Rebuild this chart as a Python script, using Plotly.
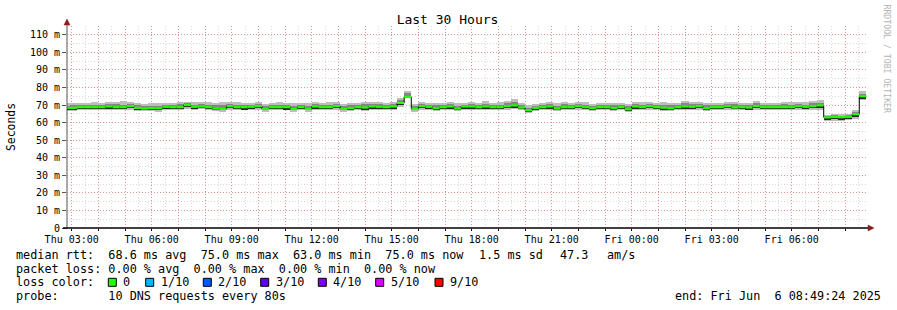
import pandas as pd
import plotly.graph_objects as go

# ---------------- data ----------------
title_text = "Last 30 Hours"
y_title = "Seconds"
range_start = "2025-06-05 02:49:24"
range_end = "2025-06-06 08:49:24"
first_bin = "2025-06-05 02:40:00"
bin_minutes = 16

# median RTT per 16-minute bin (ms)
median_ms = [
    68.4, 68.4, 68.8, 68.8, 68.8, 68.8, 69.2, 68.8, 68.8, 69.4,
    68.4, 68.0, 68.2, 68.2, 69.0, 68.8, 68.8, 70.0, 69.0, 69.2,
    68.8, 68.0, 67.8, 69.4, 68.8, 68.8, 69.0, 69.4, 67.8, 68.8,
    68.8, 68.8, 67.8, 68.8, 67.8, 69.2, 68.8, 68.8, 69.4, 67.8,
    68.2, 68.8, 68.6, 69.2, 69.0, 68.8, 69.2, 71.2, 74.6, 67.8,
    69.4, 69.0, 68.2, 68.8, 69.2, 68.0, 69.2, 69.2, 68.8, 69.2,
    68.8, 68.8, 69.4, 69.8, 68.6, 67.0, 68.4, 68.8, 69.2, 68.0,
    68.8, 68.8, 69.4, 68.8, 68.2, 68.8, 68.8, 68.2, 68.8, 67.6,
    69.2, 68.8, 69.4, 68.8, 68.5, 68.2, 68.8, 69.2, 69.0, 69.4,
    68.2, 68.8, 68.8, 69.4, 68.6, 68.8, 68.6, 69.4, 68.8, 68.8,
    68.8, 68.8, 68.8, 69.4, 69.0, 69.4, 69.8, 63.0, 63.2, 63.1,
    63.3, 64.8, 75.0,
]
# slowest ping above the median (ms)
smoke_above = [
    2.8, 3.0, 2.6, 2.4, 2.8, 2.6, 2.4, 3.2, 3.4, 2.4,
    2.8, 2.6, 3.0, 2.8, 2.2, 2.6, 3.0, 2.0, 2.6, 2.4,
    2.8, 3.4, 3.8, 2.4, 2.8, 2.6, 2.4, 2.2, 3.0, 2.6,
    2.8, 2.6, 3.2, 2.6, 3.4, 2.4, 2.6, 2.8, 2.2, 3.0,
    3.0, 2.6, 3.0, 2.4, 2.8, 2.6, 2.4, 2.6, 3.6, 2.6,
    2.2, 2.4, 2.8, 2.6, 2.4, 3.0, 2.2, 2.6, 2.4, 3.0,
    2.6, 2.8, 3.0, 3.4, 2.6, 2.8, 2.4, 2.6, 2.4, 3.0,
    2.8, 2.6, 2.2, 2.8, 2.6, 2.4, 2.6, 3.2, 2.6, 3.0,
    2.4, 2.8, 2.2, 2.6, 3.0, 3.0, 2.6, 3.0, 2.8, 2.6,
    3.2, 2.6, 2.6, 2.2, 3.0, 2.6, 2.8, 3.0, 2.6, 2.4,
    2.6, 3.0, 2.8, 2.4, 2.6, 3.0, 3.0, 1.6, 1.8, 1.7,
    1.6, 2.4, 3.2,
]
# fastest ping below the median (ms)
smoke_below = [
    1.7, 1.9, 1.7, 1.5, 1.7, 1.8, 2.1, 1.7, 1.9, 2.1,
    1.7, 1.5, 1.7, 1.9, 2.1, 1.7, 1.7, 2.3, 1.9, 1.7,
    1.7, 1.5, 1.5, 2.1, 1.7, 1.9, 1.9, 2.1, 1.5, 1.7,
    1.7, 1.7, 1.5, 1.9, 1.5, 2.1, 1.7, 1.7, 2.1, 1.5,
    1.7, 1.7, 1.9, 1.9, 1.7, 1.7, 1.9, 2.2, 0.8, 1.5,
    2.1, 1.9, 1.7, 1.7, 1.9, 1.5, 1.9, 1.9, 1.7, 1.9,
    1.7, 1.7, 2.1, 2.3, 1.7, 1.5, 1.7, 1.7, 1.9, 1.5,
    1.7, 1.7, 2.1, 1.7, 1.5, 1.7, 1.7, 1.5, 1.7, 1.5,
    1.9, 1.7, 2.1, 1.7, 1.7, 1.5, 1.7, 1.9, 1.7, 2.1,
    1.5, 1.7, 1.7, 2.1, 1.7, 1.7, 1.7, 2.1, 1.7, 1.7,
    1.7, 1.7, 1.7, 2.1, 1.9, 2.1, 2.4, 2.2, 2.0, 2.2,
    2.0, 3.0, 2.4,
]
# dense (inner) part of the smoke above / below the median (ms)
core_above = [
    1.2, 1.6, 1.0, 1.2, 1.4, 1.0, 1.2, 1.8, 1.4, 1.0,
    1.4, 1.6, 1.4, 1.2, 1.0, 1.4, 1.8, 1.0, 1.2, 1.4,
    1.2, 1.8, 2.2, 1.0, 1.4, 1.2, 1.2, 1.0, 1.6, 1.2,
    1.4, 1.2, 1.6, 1.4, 1.8, 1.2, 1.2, 1.4, 1.0, 1.6,
    1.6, 1.4, 1.8, 1.2, 1.4, 1.2, 1.2, 1.4, 2.2, 1.4,
    1.0, 1.2, 1.6, 1.2, 1.2, 1.6, 1.0, 1.4, 1.2, 1.6,
    1.2, 1.4, 1.8, 2.0, 1.2, 1.6, 1.2, 1.4, 1.2, 1.6,
    1.6, 1.2, 1.0, 1.4, 1.2, 1.2, 1.2, 1.8, 1.2, 1.6,
    1.2, 1.4, 1.0, 1.2, 1.8, 1.6, 1.4, 1.8, 1.4, 1.2,
    1.8, 1.2, 1.2, 1.0, 1.8, 1.2, 1.4, 2.0, 1.2, 1.2,
    1.2, 1.6, 1.4, 1.0, 1.2, 1.8, 1.4, 0.9, 1.0, 0.9,
    0.9, 1.2, 1.4,
]
core_below = [
    0.8, 1.0, 0.7, 0.6, 0.8, 1.0, 1.2, 0.7, 0.9, 1.2,
    0.8, 0.6, 0.9, 1.0, 1.2, 0.7, 0.8, 1.2, 1.0, 0.8,
    0.7, 0.6, 0.6, 1.2, 0.8, 1.1, 1.2, 1.2, 0.6, 0.9,
    0.8, 1.1, 0.6, 1.0, 0.6, 1.2, 0.8, 0.9, 1.2, 0.6,
    0.8, 1.0, 1.0, 1.2, 0.8, 0.7, 1.1, 1.2, 0.5, 0.6,
    1.2, 1.0, 0.8, 0.8, 1.2, 0.6, 1.1, 1.0, 0.8, 1.2,
    0.8, 0.9, 1.2, 1.3, 0.8, 0.6, 0.9, 0.8, 1.1, 0.6,
    0.8, 0.8, 1.2, 0.9, 0.6, 0.8, 0.8, 0.6, 0.9, 0.6,
    1.1, 0.8, 1.2, 0.8, 0.8, 0.6, 0.9, 1.0, 0.8, 1.2,
    0.6, 0.8, 0.9, 1.2, 0.8, 0.8, 0.9, 1.2, 0.8, 0.8,
    0.8, 0.9, 0.8, 1.2, 1.1, 1.2, 1.2, 1.0, 1.0, 1.1,
    1.0, 1.6, 1.0,
]

y_tick_values = [0, 10, 20, 30, 40, 50, 60, 70, 80, 90, 100, 110]
y_tick_labels = ["0", "10 m", "20 m", "30 m", "40 m", "50 m", "60 m",
                 "70 m", "80 m", "90 m", "100 m", "110 m"]
x_first_hour = "2025-06-05 03:00"
x_last_hour = "2025-06-06 08:00"
x_label_every_hours = 3

stats_main = "median rtt:  68.6 ms avg  75.0 ms max  63.0 ms min  75.0 ms now"
stats_sd = "1.5 ms sd"
stats_amps_value = "47.3"
stats_amps_unit = "am/s"
loss_line = "packet loss: 0.00 % avg  0.00 % max  0.00 % min  0.00 % now"
loss_color_title = "loss color:"
loss_labels = ["0", "1/10", "2/10", "3/10", "4/10", "5/10", "9/10"]
loss_colors = ["#26ff00", "#00b8ff", "#0059ff", "#5e00ff", "#7e00ff", "#dd00ff", "#ff0000"]
probe_line = "probe:       10 DNS requests every 80s"
end_line = "end: Fri Jun  6 08:49:24 2025"
watermark = "RRDTOOL / TOBI OETIKER"

# ---------------- geometry / style ----------------
W, H = 897, 310
PL, PR, PT, PB = 67, 30, 26, 82
PW = W - PL - PR
PH = H - PT - PB
MONO = "DejaVu Sans Mono"


def fx(px):
    return (px - PL) / PW


def fy(py):
    return (H - PB - py) / PH


n = len(median_ms)
step = pd.Timedelta(minutes=bin_minutes)
starts = pd.date_range(first_bin, periods=n, freq=f"{bin_minutes}min")
centers = starts + step / 2
width_ms = step.total_seconds() * 1000

fig = go.Figure()


def band(lo, hi, color):
    fig.add_trace(go.Bar(
        x=centers, base=lo, y=[h - l for l, h in zip(lo, hi)],
        width=[width_ms] * n,
        marker=dict(color=color, line=dict(width=0)),
        hoverinfo="skip", showlegend=False,
    ))


band([m - b for m, b in zip(median_ms, smoke_below)],
     [m + a for m, a in zip(median_ms, smoke_above)], "#bdbdbd")
band([m - b for m, b in zip(median_ms, core_below)],
     [m + a for m, a in zip(median_ms, core_above)], "#858585")
band([m - b for m, b in zip(median_ms, core_below)],
     list(median_ms), "#262626")

# black median step line
fig.add_trace(go.Scatter(
    x=list(starts) + [starts[-1] + step], y=list(median_ms) + [median_ms[-1]],
    mode="lines", line=dict(color="#000000", width=1, shape="hv"),
    hoverinfo="skip", showlegend=False,
))
# green median segments (loss 0)
gx, gy = [], []
for s, m in zip(starts, median_ms):
    gx += [s, s + step, None]
    gy += [m, m, None]
fig.add_trace(go.Scatter(
    x=gx, y=gy, mode="lines", line=dict(color=loss_colors[0], width=2.2),
    hoverinfo="skip", showlegend=False,
))

hours = pd.date_range(x_first_hour, x_last_hour, freq="h")
hour_labels = [h.strftime("%a %H:%M") if h.hour % x_label_every_hours == 0 else "" for h in hours]

RED_GRID = "rgba(255,0,0,0.32)"
GRAY_GRID = "rgba(130,130,130,0.3)"
DOT = "1px,2px"

fig.update_layout(
    width=W, height=H,
    margin=dict(l=PL, r=PR, t=PT, b=PB, pad=0),
    paper_bgcolor="white", plot_bgcolor="white",
    barmode="overlay", bargap=0,
    showlegend=False,
    font=dict(family=MONO, size=10, color="#000000"),
    title=dict(text=title_text, x=447.5 / W, xanchor="center", xref="container",
               y=1 - 19.5 / H, yanchor="middle", yref="container",
               font=dict(family=MONO, size=13, color="#000000")),
    xaxis=dict(
        type="date", range=[range_start, range_end],
        tickvals=list(hours), ticktext=hour_labels,
        ticks="outside", ticklen=2, tickcolor="#000000", tickwidth=1,
        tickfont=dict(family=MONO, size=10, color="#000000"),
        showgrid=True, gridcolor=RED_GRID, griddash=DOT, gridwidth=1,
        minor=dict(dtick=1800000, tick0=x_first_hour, showgrid=True,
                   gridcolor=GRAY_GRID, griddash=DOT, gridwidth=1, ticks=""),
        zeroline=False, showline=False, fixedrange=True,
    ),
    yaxis=dict(
        range=[0, 115], tickvals=y_tick_values, ticktext=y_tick_labels,
        ticks="outside", ticklen=4, tickcolor="#555555", tickwidth=1,
        tickfont=dict(family=MONO, size=10, color="#000000"),
        showgrid=True, gridcolor=RED_GRID, griddash=DOT, gridwidth=1,
        minor=dict(dtick=5, showgrid=True, gridcolor=GRAY_GRID, griddash=DOT,
                   gridwidth=1, ticks=""),
        zeroline=False, showline=False, fixedrange=True,
    ),
)

shapes = []
# axes
shapes.append(dict(type="line", xref="paper", yref="paper",
                   x0=fx(PL), x1=fx(PL), y0=fy(229), y1=fy(23),
                   line=dict(color="#555555", width=1)))
shapes.append(dict(type="line", xref="paper", yref="paper",
                   x0=fx(63), x1=fx(869), y0=fy(228), y1=fy(228),
                   line=dict(color="#000000", width=1.5)))
# arrow heads
ARROW = "#8b1c1c"
shapes.append(dict(type="path", xref="paper", yref="paper",
                   path=f"M {fx(64)} {fy(25)} L {fx(67)} {fy(19)} L {fx(70)} {fy(25)} Z",
                   fillcolor=ARROW, line=dict(color=ARROW, width=0.5)))
shapes.append(dict(type="path", xref="paper", yref="paper",
                   path=f"M {fx(868)} {fy(225)} L {fx(874)} {fy(228)} L {fx(868)} {fy(231)} Z",
                   fillcolor=ARROW, line=dict(color=ARROW, width=0.5)))

# legend colour boxes
box_left_px = [108.3, 145.7, 203.3, 260.7, 318.3, 375.7, 435.0]
legend_rows_px = [255.0, 268.5, 282.3, 296.0]
for bx, col in zip(box_left_px, loss_colors):
    shapes.append(dict(type="rect", xref="paper", yref="paper",
                       x0=fx(bx), x1=fx(bx + 8), y0=fy(legend_rows_px[2] - 4), y1=fy(legend_rows_px[2] + 4),
                       fillcolor=col, line=dict(color="#000000", width=1)))
fig.update_layout(shapes=shapes)

LEG = dict(family=MONO, size=11.8, color="#000000")
ann = []


def text(px, py, s, anchor="left", font=LEG, angle=0):
    ann.append(dict(text=s, x=fx(px), y=fy(py), xref="paper", yref="paper",
                    xanchor=anchor, yanchor="middle", showarrow=False,
                    font=font, textangle=angle, borderpad=0))


text(14.5, legend_rows_px[0], stats_main)
text(477.5, legend_rows_px[0], stats_sd)
text(558.5, legend_rows_px[0], stats_amps_value)
text(606.0, legend_rows_px[0], stats_amps_unit)
text(14.5, legend_rows_px[1], loss_line)
text(14.5, legend_rows_px[2], loss_color_title)
for bx, lab in zip(box_left_px, loss_labels):
    text(bx + 14, legend_rows_px[2], lab)
text(14.5, legend_rows_px[3], probe_line)
text(882, legend_rows_px[3], end_line, anchor="right")
text(11, (PT + H - PB) / 2, y_title, anchor="center",
     font=dict(family=MONO, size=11.4, color="#000000"), angle=-90)
text(886.5, 59, watermark, anchor="center",
     font=dict(family=MONO, size=8.2, color="#b4b4b4"), angle=90)
fig.update_layout(annotations=ann)

fig.write_html("out.html")
